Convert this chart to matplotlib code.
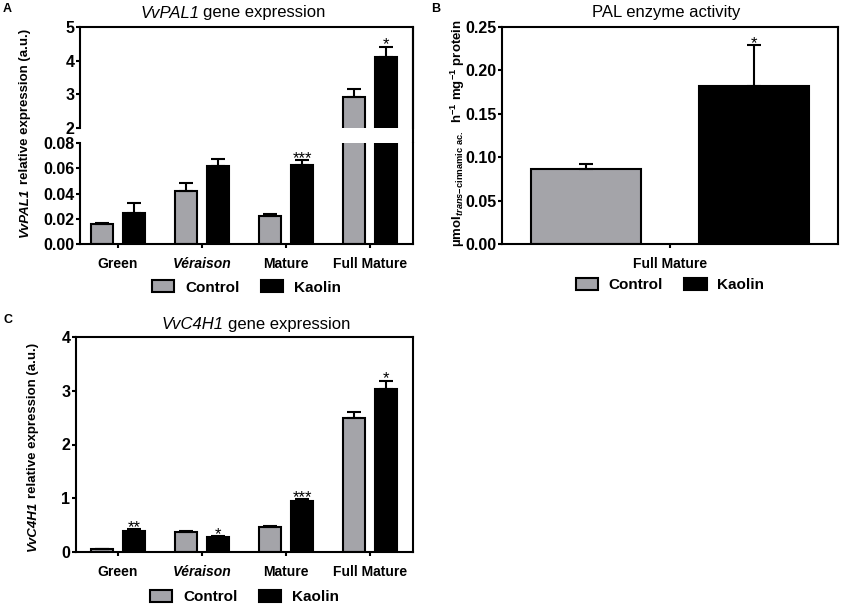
import numpy as np
import matplotlib.pyplot as plt
from matplotlib.patches import Patch

plt.rcParams['font.family'] = 'Liberation Sans'
plt.rcParams['mathtext.fontset'] = 'custom'
plt.rcParams['mathtext.rm'] = 'Liberation Sans'
plt.rcParams['mathtext.it'] = 'Liberation Sans:italic'
plt.rcParams['mathtext.bf'] = 'Liberation Sans:bold'
plt.rcParams['mathtext.bfit'] = 'Liberation Sans:bold:italic'

# datos
stages = ['Green', 'Véraison', 'Mature', 'Full Mature']
series = ['Control', 'Kaolin']

pal_ctrl = [0.0155, 0.042, 0.022, 2.91]
pal_ctrl_err = [0.0008, 0.006, 0.0018, 0.24]
pal_kao = [0.0245, 0.062, 0.0625, 4.12]
pal_kao_err = [0.008, 0.0055, 0.0038, 0.30]
pal_kao_sig = ['', '', '***', '*']

enz_stage = ['Full Mature']
enz_ctrl = [0.086]
enz_ctrl_err = [0.006]
enz_kao = [0.182]
enz_kao_err = [0.047]
enz_kao_sig = ['*']

c4h_ctrl = [0.05, 0.38, 0.46, 2.50]
c4h_ctrl_err = [0.01, 0.02, 0.03, 0.11]
c4h_kao = [0.39, 0.27, 0.95, 3.04]
c4h_kao_err = [0.04, 0.02, 0.03, 0.15]
c4h_kao_sig = ['**', '*', '***', '*']

GRAY = '#a4a4a9'
W, H = 851, 607
LW = 1.5


def box(x0, y0, x1, y1):
    return [x0 / W, 1 - y1 / H, (x1 - x0) / W, (y1 - y0) / H]


def style(ax):
    for s in ax.spines.values():
        s.set_linewidth(LW)
    ax.tick_params(direction='out', length=3, width=LW, pad=1)
    ax.tick_params(axis='y', labelsize=11.5)
    ax.tick_params(axis='x', labelsize=10, pad=6.5)
    for lab in ax.get_yticklabels() + ax.get_xticklabels():
        lab.set_fontweight('bold')


def bars(ax, x, vals, errs, color, width):
    ax.bar(x, vals, width, color=color, edgecolor='black', linewidth=LW, zorder=2)
    ax.errorbar(x, vals, yerr=[np.zeros(len(vals)), errs], fmt='none', ecolor='black',
                elinewidth=LW, capsize=5, capthick=LW, zorder=3)


def stars(ax, x, vals, errs, sig):
    for xi, v, e, s in zip(x, vals, errs, sig):
        if s:
            ax.annotate(s, (xi, v + e), xytext=(0, -2), textcoords='offset points',
                        ha='center', va='baseline', fontsize=12)


def legend(ax, y):
    handles = [Patch(facecolor=GRAY, edgecolor='black', linewidth=LW),
               Patch(facecolor='black', edgecolor='black', linewidth=LW)]
    ax.legend(handles, series, loc='center', bbox_to_anchor=(0.5, y), ncol=2,
              frameon=False, handlelength=1.45, handleheight=0.8, handletextpad=0.7,
              columnspacing=1.4, prop={'weight': 'bold', 'size': 11})


def rich(cx, cy, parts, vertical=False, gap=4, **kw):
    # texto con trozos de estilo distinto, centrado en (cx, cy) en pixeles
    r = fig.canvas.get_renderer()
    rot = 90 if vertical else 0
    texts, sizes = [], []
    for s, extra in parts:
        t = fig.text(0, 0, s, rotation=rot, rotation_mode='anchor', ha='left',
                     va='center', **kw, **extra)
        bb = t.get_window_extent(r)
        texts.append(t)
        sizes.append(bb.height if vertical else bb.width)
    pos = -(sum(sizes) + gap * (len(sizes) - 1)) / 2
    for t, sz in zip(texts, sizes):
        if vertical:
            t.set_position((cx / W, 1 - (cy - pos) / H))
        else:
            t.set_position(((cx + pos) / W, 1 - cy / H))
        pos += sz + gap


fig = plt.figure(figsize=(8.51, 6.07), dpi=100)

# ---- A: VvPAL1 con eje cortado ----
x = np.arange(len(stages))
off, bw = 0.19, 0.265
axA_top = fig.add_axes(box(80, 27, 413, 128))
axA_bot = fig.add_axes(box(80, 143, 413, 244))
for ax in (axA_top, axA_bot):
    bars(ax, x - off, pal_ctrl, pal_ctrl_err, GRAY, bw)
    bars(ax, x + off, pal_kao, pal_kao_err, 'black', bw)
    ax.set_xlim(-0.45, 3.51)
axA_top.set_ylim(2, 5)
axA_top.set_yticks([2, 3, 4, 5])
axA_top.set_xticks([])
axA_top.spines['bottom'].set_visible(False)
axA_bot.set_ylim(0, 0.08)
axA_bot.set_yticks([0, 0.02, 0.04, 0.06, 0.08])
axA_bot.set_yticklabels(['0.00', '0.02', '0.04', '0.06', '0.08'])
axA_bot.spines['top'].set_visible(False)
axA_bot.set_xticks(x)
axA_bot.set_xticklabels(stages)
style(axA_top)
style(axA_bot)
axA_bot.get_xticklabels()[1].set_fontstyle('italic')
# estrellas en el eje que corresponde
for xi, v, e, s in zip(x + off, pal_kao, pal_kao_err, pal_kao_sig):
    stars(axA_top if v > 1 else axA_bot, [xi], [v], [e], [s])
# borde derecho continuo a traves del corte
axA_bot.plot([1, 1], [1, 1 + 116 / 101], transform=axA_bot.transAxes, color='black',
             lw=LW, clip_on=False, solid_capstyle='butt')
legend(axA_bot, -0.43)

# ---- B: actividad PAL ----
axB = fig.add_axes(box(502, 27, 838, 244))
xb = np.arange(len(enz_stage))
bars(axB, xb - 0.5, enz_ctrl, enz_ctrl_err, GRAY, 0.66)
bars(axB, xb + 0.5, enz_kao, enz_kao_err, 'black', 0.66)
stars(axB, xb + 0.5, enz_kao, enz_kao_err, enz_kao_sig)
axB.set_xlim(-1, 1)
axB.set_ylim(0, 0.25)
axB.set_yticks([0, 0.05, 0.10, 0.15, 0.20, 0.25])
axB.set_yticklabels(['0.00', '0.05', '0.10', '0.15', '0.20', '0.25'])
axB.set_xticks(xb)
axB.set_xticklabels(enz_stage)
style(axB)
legend(axB, -0.19)

# ---- C: VvC4H1 ----
axC = fig.add_axes(box(76, 337, 413, 552))
bars(axC, x - off, c4h_ctrl, c4h_ctrl_err, GRAY, bw)
bars(axC, x + off, c4h_kao, c4h_kao_err, 'black', bw)
stars(axC, x + off, c4h_kao, c4h_kao_err, c4h_kao_sig)
axC.set_xlim(-0.5, 3.51)
axC.set_ylim(0, 4)
axC.set_yticks([0, 1, 2, 3, 4])
axC.set_xticks(x)
axC.set_xticklabels(stages)
style(axC)
axC.get_xticklabels()[1].set_fontstyle('italic')
legend(axC, -0.21)

# titulos, etiquetas y letras de panel
ital = {'fontstyle': 'italic'}
rich(233, 13, [('VvPAL1', ital), ('gene expression', {})], gap=4, fontsize=12)
fig.text(666 / W, 1 - 13 / H, 'PAL enzyme activity', ha='center', va='center', fontsize=12)
rich(256, 325, [('VvC4H1', ital), ('gene expression', {})], gap=4, fontsize=12)

rich(25, 133, [('VvPAL1', ital), ('relative expression (a.u.)', {})], vertical=True,
     gap=3, fontsize=9.5, fontweight='bold')
rich(33, 447, [('VvC4H1', ital), ('relative expression (a.u.)', {})], vertical=True,
     gap=3, fontsize=9.5, fontweight='bold')
fig.text(458 / W, 1 - 133 / H,
         r'µmol$_{\mathbfit{trans}\mathbf{-cinnamic\ ac.}}$  h$^{\mathbf{-1}}$ mg$^{\mathbf{-1}}$ protein',
         rotation=90, ha='center', va='center', fontsize=9.5, fontweight='bold')

fig.text(7 / W, 1 - 9 / H, 'A', ha='center', va='center', fontsize=9, fontweight='bold')
fig.text(436 / W, 1 - 9 / H, 'B', ha='center', va='center', fontsize=9, fontweight='bold')
fig.text(8 / W, 1 - 320 / H, 'C', ha='center', va='center', fontsize=9, fontweight='bold')

fig.savefig('out.png', dpi=100)
